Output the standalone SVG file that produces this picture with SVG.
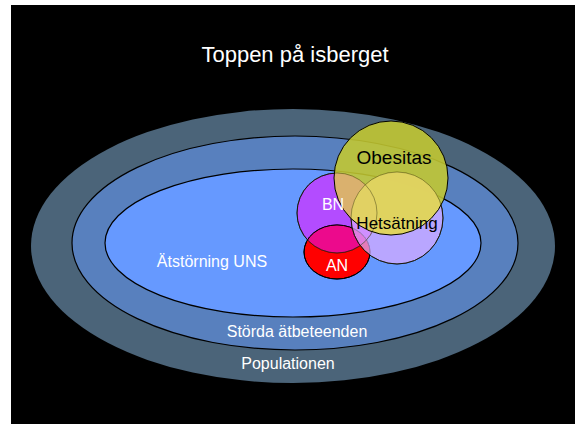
<svg xmlns="http://www.w3.org/2000/svg" width="579" height="424" viewBox="0 0 579 424">
  <style>
    .lbl { font-family: "Liberation Sans", Arial, sans-serif; font-size: 16px; text-anchor: middle; }
    .light { fill: #ffffff; }
    .dark { fill: #000000; }
    .ring { stroke: #000000; stroke-width: 1.2; }
    .blob { stroke: #000000; stroke-width: 1; }
    .seen { fill: none; stroke: #3a3a10; stroke-width: 1; stroke-opacity: 0.45; }
  </style>
  <defs>
    <clipPath id="clipBN"><circle cx="337" cy="213" r="40"/></clipPath>
    <clipPath id="clipAN"><ellipse cx="337" cy="252" rx="33" ry="27"/></clipPath>
    <clipPath id="clipHet"><circle cx="397" cy="218" r="46"/></clipPath>
  </defs>

  <!-- page and slide background -->
  <rect x="0" y="0" width="579" height="424" fill="#ffffff"/>
  <rect x="11" y="5" width="564" height="419" fill="#000000"/>

  <text id="title" class="lbl light" x="295" y="62" style="font-size:22px">Toppen på isberget</text>

  <!-- nested population rings -->
  <g id="populationen">
    <ellipse cx="293" cy="246" rx="262" ry="137" fill="#4b6479"/>
  </g>
  <g id="storda">
    <ellipse class="ring" cx="295" cy="243" rx="223" ry="107" fill="#5880be"/>
  </g>
  <g id="uns">
    <ellipse class="ring" cx="293" cy="243" rx="188" ry="74" fill="#6699ff"/>
  </g>

  <!-- diagnosis circles -->
  <g id="bn">
    <circle class="blob" cx="337" cy="213" r="40" fill="#b34cff"/>
  </g>
  <g id="an">
    <ellipse class="blob" cx="337" cy="252" rx="33" ry="27" fill="#ff0000"/>
    <!-- BN/AN overlap -->
    <circle cx="337" cy="213" r="40" fill="#ec0a8c" clip-path="url(#clipAN)"/>
    <circle cx="337" cy="213" r="40" fill="none" stroke="#000" stroke-width="1" stroke-opacity="0.6" clip-path="url(#clipAN)"/>
    <ellipse cx="337" cy="252" rx="33" ry="27" fill="none" stroke="#000" stroke-width="1"/>
  </g>
  <g id="hetsatning">
    <circle class="blob" cx="397" cy="218" r="46" fill="#d9abff" fill-opacity="0.72"/>
  </g>
  <g id="obesitas">
    <circle cx="391" cy="178" r="57" fill="#c4c830" fill-opacity="0.88"/>
    <!-- tinted overlaps with BN and Hetsätning -->
    <circle cx="391" cy="178" r="57" fill="#dcb072" fill-opacity="0.92" clip-path="url(#clipBN)"/>
    <circle cx="391" cy="178" r="57" fill="#e2d462" fill-opacity="0.92" clip-path="url(#clipHet)"/>
    <circle class="seen" cx="337" cy="213" r="40"/>
    <circle class="seen" cx="397" cy="218" r="46"/>
    <circle cx="391" cy="178" r="57" fill="none" stroke="#000" stroke-width="1"/>
  </g>

  <!-- labels -->
  <g id="labels">
    <text class="lbl dark" x="394" y="164" style="font-size:19px">Obesitas</text>
    <text class="lbl dark" x="397" y="229" style="font-size:17px">Hetsätning</text>
    <text class="lbl light" x="333" y="210">BN</text>
    <text class="lbl light" x="337" y="271">AN</text>
    <text class="lbl light" x="212" y="267">Ätstörning UNS</text>
    <text class="lbl light" x="297" y="337">Störda ätbeteenden</text>
    <text class="lbl light" x="288" y="369">Populationen</text>
  </g>
</svg>
